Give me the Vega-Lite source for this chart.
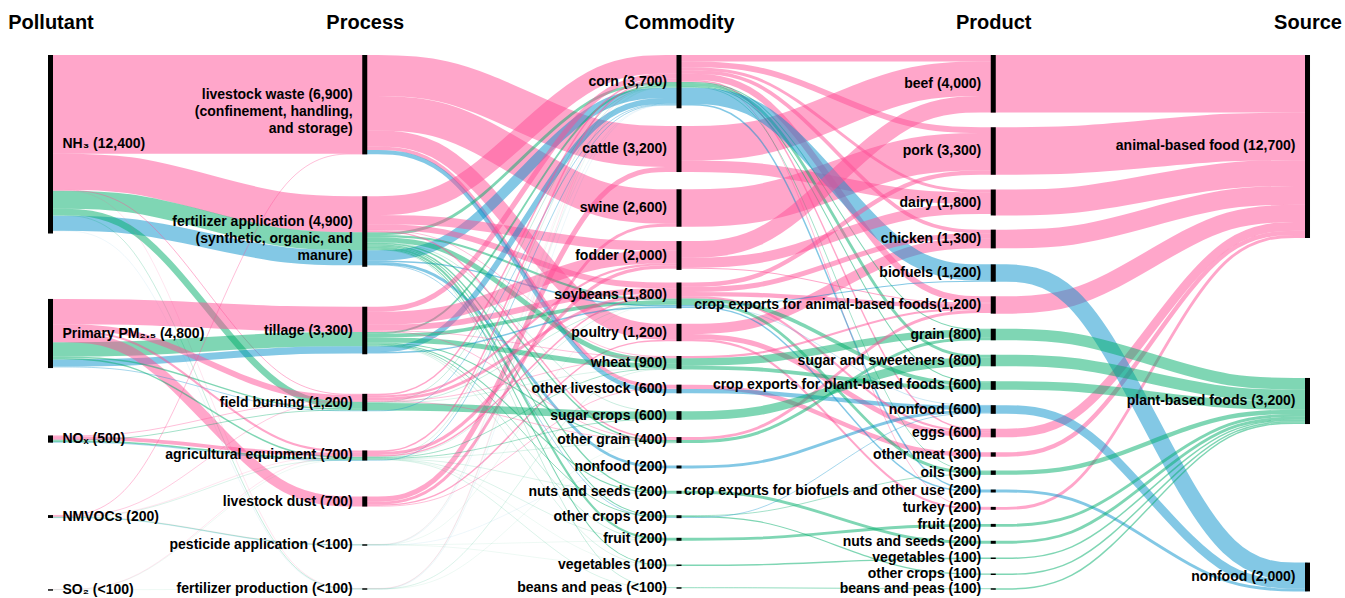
{
  "$schema": "https://vega.github.io/schema/vega-lite/v6.json",
  "width": 1345,
  "height": 558,
  "autosize": {"type": "none"},
  "padding": {"top": 40, "left": 0, "right": 0, "bottom": 0},
  "background": "white",
  "config": {"view": {"stroke": null}, "font": "Liberation Sans"},
  "datasets": {
    "nodes": [
      {"id": "NH3", "stage": 0, "y0": 0, "v": 12400, "label": ["NH₃ (12,400)"]},
      {"id": "PM", "stage": 0, "y0": 16940, "v": 4800, "label": ["Primary PM₂.₅ (4,800)"]},
      {"id": "NOx", "stage": 0, "y0": 26420, "v": 500, "label": ["NOₓ (500)"]},
      {"id": "VOC", "stage": 0, "y0": 31950, "v": 200, "label": ["NMVOCs (200)"]},
      {"id": "SO2", "stage": 0, "y0": 37100, "v": 100, "label": ["SO₂ (<100)"]},
      {"id": "LW", "stage": 1, "y0": 0, "v": 6900, "label": ["livestock waste (6,900)", "(confinement, handling,", "and storage)"]},
      {"id": "FA", "stage": 1, "y0": 9807, "v": 4900, "label": ["fertilizer application (4,900)", "(synthetic, organic, and", "manure)"]},
      {"id": "TI", "stage": 1, "y0": 17482, "v": 3300, "label": ["tillage (3,300)"]},
      {"id": "FB", "stage": 1, "y0": 23532, "v": 1200, "label": ["field burning (1,200)"]},
      {"id": "AE", "stage": 1, "y0": 27462, "v": 700, "label": ["agricultural equipment (700)"]},
      {"id": "LD", "stage": 1, "y0": 30657, "v": 700, "label": ["livestock dust (700)"]},
      {"id": "PA", "stage": 1, "y0": 33978, "v": 100, "label": ["pesticide application (<100)"]},
      {"id": "FP", "stage": 1, "y0": 37033, "v": 100, "label": ["fertilizer production (<100)"]},
      {"id": "corn", "stage": 2, "y0": 0, "v": 3700, "label": ["corn (3,700)"]},
      {"id": "cattle", "stage": 2, "y0": 4928, "v": 3200, "label": ["cattle (3,200)"]},
      {"id": "swine", "stage": 2, "y0": 9325, "v": 2600, "label": ["swine (2,600)"]},
      {"id": "fodder", "stage": 2, "y0": 12924, "v": 2000, "label": ["fodder (2,000)"]},
      {"id": "soy", "stage": 2, "y0": 15801, "v": 1800, "label": ["soybeans (1,800)"]},
      {"id": "poultry", "stage": 2, "y0": 18671, "v": 1200, "label": ["poultry (1,200)"]},
      {"id": "wheat", "stage": 2, "y0": 20904, "v": 900, "label": ["wheat (900)"]},
      {"id": "olv", "stage": 2, "y0": 22894, "v": 600, "label": ["other livestock (600)"]},
      {"id": "sugarc", "stage": 2, "y0": 24735, "v": 600, "label": ["sugar crops (600)"]},
      {"id": "ograin", "stage": 2, "y0": 26536, "v": 400, "label": ["other grain (400)"]},
      {"id": "nfc", "stage": 2, "y0": 28511, "v": 200, "label": ["nonfood (200)"]},
      {"id": "nutsc", "stage": 2, "y0": 30268, "v": 200, "label": ["nuts and seeds (200)"]},
      {"id": "ocropc", "stage": 2, "y0": 31962, "v": 200, "label": ["other crops (200)"]},
      {"id": "fruitc", "stage": 2, "y0": 33532, "v": 200, "label": ["fruit (200)"]},
      {"id": "vegc", "stage": 2, "y0": 35387, "v": 100, "label": ["vegetables (100)"]},
      {"id": "beansc", "stage": 2, "y0": 36964, "v": 100, "label": ["beans and peas (<100)"]},
      {"id": "beef", "stage": 3, "y0": 0, "v": 4000, "label": ["beef (4,000)"]},
      {"id": "pork", "stage": 3, "y0": 5017, "v": 3300, "label": ["pork (3,300)"]},
      {"id": "dairy", "stage": 3, "y0": 9343, "v": 1800, "label": ["dairy (1,800)"]},
      {"id": "chicken", "stage": 3, "y0": 12128, "v": 1300, "label": ["chicken (1,300)"]},
      {"id": "biofuel", "stage": 3, "y0": 14539, "v": 1200, "label": ["biofuels (1,200)"]},
      {"id": "xanimal", "stage": 3, "y0": 16761, "v": 1200, "label": ["crop exports for animal-based foods(1,200)"]},
      {"id": "grain", "stage": 3, "y0": 19010, "v": 800, "label": ["grain (800)"]},
      {"id": "sugar", "stage": 3, "y0": 20815, "v": 800, "label": ["sugar and sweeteners (800)"]},
      {"id": "xplant", "stage": 3, "y0": 22651, "v": 600, "label": ["crop exports for plant-based foods (600)"]},
      {"id": "nfp", "stage": 3, "y0": 24318, "v": 600, "label": ["nonfood (600)"]},
      {"id": "eggs", "stage": 3, "y0": 25950, "v": 600, "label": ["eggs (600)"]},
      {"id": "ometa", "stage": 3, "y0": 27593, "v": 300, "label": ["other meat (300)"]},
      {"id": "oils", "stage": 3, "y0": 28857, "v": 300, "label": ["oils (300)"]},
      {"id": "xbio", "stage": 3, "y0": 30178, "v": 200, "label": ["crop exports for biofuels and other use (200)"]},
      {"id": "turkey", "stage": 3, "y0": 31381, "v": 200, "label": ["turkey (200)"]},
      {"id": "fruitp", "stage": 3, "y0": 32562, "v": 200, "label": ["fruit (200)"]},
      {"id": "nutsp", "stage": 3, "y0": 33740, "v": 200, "label": ["nuts and seeds (200)"]},
      {"id": "vegp", "stage": 3, "y0": 34901, "v": 100, "label": ["vegetables (100)"]},
      {"id": "ocropp", "stage": 3, "y0": 36012, "v": 100, "label": ["other crops (100)"]},
      {"id": "beansp", "stage": 3, "y0": 37033, "v": 100, "label": ["beans and peas (100)"]},
      {"id": "animal", "stage": 4, "y0": 0, "v": 12700, "label": ["animal-based food (12,700)"]},
      {"id": "plant", "stage": 4, "y0": 22428, "v": 3200, "label": ["plant-based foods (3,200)"]},
      {"id": "nonfood", "stage": 4, "y0": 35250, "v": 2000, "label": ["nonfood (2,000)"]}
    ],
    "links": [
      {"s": "NH3", "t": "LW", "c": 0, "v": 6850},
      {"s": "NH3", "t": "FA", "c": 0, "v": 2500},
      {"s": "NH3", "t": "FA", "c": 1, "v": 1250},
      {"s": "NH3", "t": "FA", "c": 2, "v": 1050},
      {"s": "NH3", "t": "FB", "c": 0, "v": 60},
      {"s": "NH3", "t": "FB", "c": 1, "v": 450},
      {"s": "NH3", "t": "FP", "c": 0, "v": 20},
      {"s": "NH3", "t": "FP", "c": 1, "v": 30},
      {"s": "NH3", "t": "FP", "c": 2, "v": 10},
      {"s": "PM", "t": "TI", "c": 0, "v": 1750},
      {"s": "PM", "t": "TI", "c": 1, "v": 1000},
      {"s": "PM", "t": "TI", "c": 2, "v": 500},
      {"s": "PM", "t": "LD", "c": 0, "v": 700},
      {"s": "PM", "t": "FB", "c": 0, "v": 400},
      {"s": "PM", "t": "FB", "c": 1, "v": 100},
      {"s": "PM", "t": "FB", "c": 2, "v": 50},
      {"s": "PM", "t": "AE", "c": 0, "v": 150},
      {"s": "PM", "t": "AE", "c": 1, "v": 100},
      {"s": "NOx", "t": "AE", "c": 0, "v": 250},
      {"s": "NOx", "t": "AE", "c": 1, "v": 100},
      {"s": "NOx", "t": "AE", "c": 2, "v": 50},
      {"s": "NOx", "t": "FB", "c": 0, "v": 50},
      {"s": "NOx", "t": "FB", "c": 1, "v": 50},
      {"s": "VOC", "t": "LW", "c": 0, "v": 50},
      {"s": "VOC", "t": "PA", "c": 0, "v": 10},
      {"s": "VOC", "t": "PA", "c": 1, "v": 40},
      {"s": "VOC", "t": "PA", "c": 2, "v": 20},
      {"s": "VOC", "t": "AE", "c": 0, "v": 20},
      {"s": "VOC", "t": "AE", "c": 1, "v": 20},
      {"s": "VOC", "t": "FB", "c": 0, "v": 40},
      {"s": "SO2", "t": "AE", "c": 0, "v": 20},
      {"s": "SO2", "t": "AE", "c": 1, "v": 10},
      {"s": "SO2", "t": "FP", "c": 1, "v": 10},
      {"s": "LW", "t": "cattle", "c": 0, "v": 2850},
      {"s": "LW", "t": "swine", "c": 0, "v": 2400},
      {"s": "LW", "t": "poultry", "c": 0, "v": 1100},
      {"s": "LW", "t": "olv", "c": 0, "v": 250},
      {"s": "LW", "t": "olv", "c": 2, "v": 300},
      {"s": "LD", "t": "cattle", "c": 0, "v": 350},
      {"s": "LD", "t": "swine", "c": 0, "v": 200},
      {"s": "LD", "t": "poultry", "c": 0, "v": 100},
      {"s": "LD", "t": "olv", "c": 0, "v": 50},
      {"s": "FA", "t": "corn", "c": 0, "v": 1300},
      {"s": "FA", "t": "corn", "c": 1, "v": 200},
      {"s": "FA", "t": "corn", "c": 2, "v": 710},
      {"s": "FA", "t": "fodder", "c": 0, "v": 650},
      {"s": "FA", "t": "soy", "c": 0, "v": 400},
      {"s": "FA", "t": "soy", "c": 1, "v": 150},
      {"s": "FA", "t": "soy", "c": 2, "v": 100},
      {"s": "FA", "t": "wheat", "c": 0, "v": 50},
      {"s": "FA", "t": "wheat", "c": 1, "v": 350},
      {"s": "FA", "t": "ograin", "c": 0, "v": 100},
      {"s": "FA", "t": "ograin", "c": 1, "v": 100},
      {"s": "FA", "t": "nfc", "c": 2, "v": 190},
      {"s": "FA", "t": "nutsc", "c": 1, "v": 100},
      {"s": "FA", "t": "ocropc", "c": 1, "v": 70},
      {"s": "FA", "t": "ocropc", "c": 2, "v": 50},
      {"s": "FA", "t": "fruitc", "c": 1, "v": 150},
      {"s": "FA", "t": "vegc", "c": 1, "v": 70},
      {"s": "FA", "t": "beansc", "c": 1, "v": 30},
      {"s": "FA", "t": "sugarc", "c": 1, "v": 30},
      {"s": "TI", "t": "corn", "c": 0, "v": 350},
      {"s": "TI", "t": "corn", "c": 1, "v": 130},
      {"s": "TI", "t": "corn", "c": 2, "v": 400},
      {"s": "TI", "t": "fodder", "c": 0, "v": 900},
      {"s": "TI", "t": "soy", "c": 0, "v": 400},
      {"s": "TI", "t": "soy", "c": 1, "v": 250},
      {"s": "TI", "t": "soy", "c": 2, "v": 100},
      {"s": "TI", "t": "wheat", "c": 0, "v": 50},
      {"s": "TI", "t": "wheat", "c": 1, "v": 350},
      {"s": "TI", "t": "ograin", "c": 0, "v": 50},
      {"s": "TI", "t": "ograin", "c": 1, "v": 80},
      {"s": "TI", "t": "nutsc", "c": 1, "v": 80},
      {"s": "TI", "t": "ocropc", "c": 1, "v": 60},
      {"s": "TI", "t": "fruitc", "c": 1, "v": 30},
      {"s": "TI", "t": "vegc", "c": 1, "v": 20},
      {"s": "FB", "t": "sugarc", "c": 1, "v": 520},
      {"s": "FB", "t": "corn", "c": 0, "v": 100},
      {"s": "FB", "t": "corn", "c": 1, "v": 30},
      {"s": "FB", "t": "corn", "c": 2, "v": 50},
      {"s": "FB", "t": "soy", "c": 0, "v": 200},
      {"s": "FB", "t": "soy", "c": 1, "v": 30},
      {"s": "FB", "t": "fodder", "c": 0, "v": 150},
      {"s": "FB", "t": "wheat", "c": 0, "v": 50},
      {"s": "FB", "t": "wheat", "c": 1, "v": 20},
      {"s": "FB", "t": "ograin", "c": 0, "v": 50},
      {"s": "AE", "t": "corn", "c": 0, "v": 100},
      {"s": "AE", "t": "corn", "c": 1, "v": 20},
      {"s": "AE", "t": "corn", "c": 2, "v": 50},
      {"s": "AE", "t": "fodder", "c": 0, "v": 220},
      {"s": "AE", "t": "soy", "c": 0, "v": 100},
      {"s": "AE", "t": "soy", "c": 1, "v": 20},
      {"s": "AE", "t": "wheat", "c": 1, "v": 50},
      {"s": "AE", "t": "sugarc", "c": 1, "v": 50},
      {"s": "AE", "t": "ograin", "c": 1, "v": 20},
      {"s": "AE", "t": "nutsc", "c": 1, "v": 20},
      {"s": "AE", "t": "fruitc", "c": 1, "v": 20},
      {"s": "AE", "t": "vegc", "c": 1, "v": 10},
      {"s": "AE", "t": "beansc", "c": 1, "v": 20},
      {"s": "PA", "t": "corn", "c": 0, "v": 10},
      {"s": "PA", "t": "corn", "c": 1, "v": 10},
      {"s": "PA", "t": "corn", "c": 2, "v": 10},
      {"s": "PA", "t": "fruitc", "c": 1, "v": 10},
      {"s": "PA", "t": "vegc", "c": 1, "v": 10},
      {"s": "PA", "t": "soy", "c": 1, "v": 10},
      {"s": "PA", "t": "nfc", "c": 2, "v": 10},
      {"s": "FP", "t": "corn", "c": 0, "v": 20},
      {"s": "FP", "t": "corn", "c": 1, "v": 10},
      {"s": "FP", "t": "corn", "c": 2, "v": 10},
      {"s": "FP", "t": "wheat", "c": 1, "v": 20},
      {"s": "FP", "t": "ograin", "c": 1, "v": 10},
      {"s": "cattle", "t": "beef", "c": 0, "v": 2400},
      {"s": "cattle", "t": "dairy", "c": 0, "v": 800},
      {"s": "swine", "t": "pork", "c": 0, "v": 2600},
      {"s": "poultry", "t": "chicken", "c": 0, "v": 700},
      {"s": "poultry", "t": "eggs", "c": 0, "v": 350},
      {"s": "poultry", "t": "turkey", "c": 0, "v": 150},
      {"s": "olv", "t": "ometa", "c": 0, "v": 300},
      {"s": "olv", "t": "nfp", "c": 2, "v": 300},
      {"s": "corn", "t": "beef", "c": 0, "v": 450},
      {"s": "corn", "t": "pork", "c": 0, "v": 400},
      {"s": "corn", "t": "dairy", "c": 0, "v": 200},
      {"s": "corn", "t": "chicken", "c": 0, "v": 250},
      {"s": "corn", "t": "xanimal", "c": 0, "v": 430},
      {"s": "corn", "t": "eggs", "c": 0, "v": 100},
      {"s": "corn", "t": "turkey", "c": 0, "v": 50},
      {"s": "corn", "t": "grain", "c": 1, "v": 70},
      {"s": "corn", "t": "sugar", "c": 1, "v": 200},
      {"s": "corn", "t": "xplant", "c": 1, "v": 70},
      {"s": "corn", "t": "oils", "c": 1, "v": 50},
      {"s": "corn", "t": "biofuel", "c": 2, "v": 1130},
      {"s": "corn", "t": "xbio", "c": 2, "v": 100},
      {"s": "fodder", "t": "beef", "c": 0, "v": 1150},
      {"s": "fodder", "t": "dairy", "c": 0, "v": 700},
      {"s": "fodder", "t": "xanimal", "c": 0, "v": 70},
      {"s": "soy", "t": "pork", "c": 0, "v": 300},
      {"s": "soy", "t": "chicken", "c": 0, "v": 350},
      {"s": "soy", "t": "xanimal", "c": 0, "v": 300},
      {"s": "soy", "t": "eggs", "c": 0, "v": 150},
      {"s": "soy", "t": "oils", "c": 1, "v": 200},
      {"s": "soy", "t": "xplant", "c": 1, "v": 260},
      {"s": "soy", "t": "biofuel", "c": 2, "v": 70},
      {"s": "soy", "t": "xbio", "c": 2, "v": 100},
      {"s": "soy", "t": "nfp", "c": 2, "v": 30},
      {"s": "wheat", "t": "xanimal", "c": 0, "v": 150},
      {"s": "wheat", "t": "grain", "c": 1, "v": 520},
      {"s": "wheat", "t": "xplant", "c": 1, "v": 270},
      {"s": "ograin", "t": "xanimal", "c": 0, "v": 200},
      {"s": "ograin", "t": "grain", "c": 1, "v": 210},
      {"s": "sugarc", "t": "sugar", "c": 1, "v": 600},
      {"s": "nfc", "t": "nfp", "c": 2, "v": 200},
      {"s": "nutsc", "t": "nutsp", "c": 1, "v": 200},
      {"s": "ocropc", "t": "ocropp", "c": 1, "v": 80},
      {"s": "ocropc", "t": "oils", "c": 1, "v": 50},
      {"s": "ocropc", "t": "nfp", "c": 2, "v": 50},
      {"s": "fruitc", "t": "fruitp", "c": 1, "v": 200},
      {"s": "vegc", "t": "vegp", "c": 1, "v": 100},
      {"s": "beansc", "t": "beansp", "c": 1, "v": 60},
      {"s": "beef", "t": "animal", "c": 0, "v": 4000},
      {"s": "pork", "t": "animal", "c": 0, "v": 3300},
      {"s": "dairy", "t": "animal", "c": 0, "v": 1800},
      {"s": "chicken", "t": "animal", "c": 0, "v": 1300},
      {"s": "xanimal", "t": "animal", "c": 0, "v": 1200},
      {"s": "eggs", "t": "animal", "c": 0, "v": 600},
      {"s": "ometa", "t": "animal", "c": 0, "v": 300},
      {"s": "turkey", "t": "animal", "c": 0, "v": 200},
      {"s": "biofuel", "t": "nonfood", "c": 2, "v": 1200},
      {"s": "nfp", "t": "nonfood", "c": 2, "v": 600},
      {"s": "xbio", "t": "nonfood", "c": 2, "v": 200},
      {"s": "grain", "t": "plant", "c": 1, "v": 800},
      {"s": "sugar", "t": "plant", "c": 1, "v": 800},
      {"s": "xplant", "t": "plant", "c": 1, "v": 600},
      {"s": "oils", "t": "plant", "c": 1, "v": 300},
      {"s": "fruitp", "t": "plant", "c": 1, "v": 200},
      {"s": "nutsp", "t": "plant", "c": 1, "v": 200},
      {"s": "vegp", "t": "plant", "c": 1, "v": 100},
      {"s": "ocropp", "t": "plant", "c": 1, "v": 100},
      {"s": "beansp", "t": "plant", "c": 1, "v": 100}
    ]
  },
  "layer": [
    {
      "data": {"name": "links"},
      "transform": [
        {"lookup": "s", "from": {"data": {"name": "nodes"}, "key": "id", "fields": ["stage", "y0"]}, "as": ["sx", "sy0"]},
        {"lookup": "t", "from": {"data": {"name": "nodes"}, "key": "id", "fields": ["y0"]}, "as": ["ty0"]},
        {"stack": "v", "groupby": ["s"], "sort": [{"field": "c"}, {"field": "ty0"}], "as": ["a0", "a1"]},
        {"stack": "v", "groupby": ["t"], "sort": [{"field": "c"}, {"field": "sy0"}], "as": ["b0", "b1"]},
        {"calculate": "datum.sy0 + (datum.a0 + datum.a1) / 2", "as": "ys"},
        {"calculate": "datum.ty0 + (datum.b0 + datum.b1) / 2", "as": "yt"},
        {"calculate": "datum.s + '>' + datum.t + '>' + datum.c", "as": "lid"},
        {"calculate": "[0, 1, 2, 3, 4]", "as": "pts"},
        {"flatten": ["pts"], "as": ["pt"]},
        {"calculate": "datum.sx + datum.pt / 4", "as": "px"},
        {"calculate": "datum.pt < 2 ? datum.ys : (datum.pt == 2 ? (datum.ys + datum.yt) / 2 : datum.yt)", "as": "py"}
      ],
      "mark": {"type": "line", "interpolate": "basis", "strokeOpacity": 0.5, "strokeCap": "butt", "clip": false},
      "encoding": {
        "x": {"field": "px", "type": "quantitative", "scale": {"domain": [-0.1607, 4.1193], "nice": false, "zero": false},
          "axis": {"orient": "top", "values": [0, 1, 2, 3, 4], "labelExpr": "['Pollutant','Process','Commodity','Product','Source'][datum.value]", "domain": false, "ticks": false, "tickSize": 0, "grid": false, "labelFontSize": 20, "labelFontWeight": "bold", "labelFont": "Liberation Sans", "labelColor": "black", "labelPadding": 8, "labelFlush": false, "labelOverlap": false, "labelBound": false, "title": null}},
        "y": {"field": "py", "type": "quantitative", "scale": {"domain": [-1042, 37708], "reverse": true, "nice": false, "zero": false}, "axis": null},
        "detail": {"field": "lid", "type": "nominal"},
        "order": {"field": "pt", "type": "quantitative"},
        "color": {"field": "c", "type": "nominal", "scale": {"domain": [0, 1, 2], "range": ["#ff4d95", "#00ad69", "#0791cb"]}, "legend": null},
        "strokeWidth": {"field": "v", "type": "quantitative", "scale": {"domain": [0, 10000], "range": [0, 144], "zero": true}, "legend": null}
      }
    },
    {
      "data": {"name": "nodes"},
      "transform": [{"calculate": "datum.y0 + datum.v", "as": "y1"}],
      "mark": {"type": "rule", "strokeWidth": 5, "color": "black", "strokeCap": "butt"},
      "encoding": {
        "x": {"field": "stage", "type": "quantitative",
          "axis": {"orient": "top", "values": [0, 1, 2, 3, 4], "labelExpr": "['Pollutant','Process','Commodity','Product','Source'][datum.value]", "domain": false, "ticks": false, "tickSize": 0, "grid": false, "labelFontSize": 20, "labelFontWeight": "bold", "labelFont": "Liberation Sans", "labelColor": "black", "labelPadding": 8, "labelFlush": false, "labelOverlap": false, "labelBound": false, "title": null}},
        "y": {"field": "y0", "type": "quantitative", "axis": null},
        "y2": {"field": "y1"}
      }
    },
    {
      "data": {"name": "nodes"},
      "transform": [{"filter": "datum.stage == 0"}, {"calculate": "datum.y0 + datum.v / 2", "as": "ym"}],
      "mark": {"type": "text", "align": "left", "baseline": "middle", "dx": 12, "fontSize": 14, "fontWeight": "bold", "font": "Liberation Sans", "color": "black", "lineHeight": 17},
      "encoding": {
        "x": {"field": "stage", "type": "quantitative",
          "axis": {"orient": "top", "values": [0, 1, 2, 3, 4], "labelExpr": "['Pollutant','Process','Commodity','Product','Source'][datum.value]", "domain": false, "ticks": false, "tickSize": 0, "grid": false, "labelFontSize": 20, "labelFontWeight": "bold", "labelFont": "Liberation Sans", "labelColor": "black", "labelPadding": 8, "labelFlush": false, "labelOverlap": false, "labelBound": false, "title": null}},
        "y": {"field": "ym", "type": "quantitative", "axis": null},
        "text": {"field": "label", "type": "nominal"}
      }
    },
    {
      "data": {"name": "nodes"},
      "transform": [{"filter": "datum.stage > 0 && length(datum.label) == 1"}, {"calculate": "datum.y0 + datum.v / 2", "as": "ym"}],
      "mark": {"type": "text", "align": "right", "baseline": "middle", "dx": -12, "fontSize": 14, "fontWeight": "bold", "font": "Liberation Sans", "color": "black", "lineHeight": 17},
      "encoding": {
        "x": {"field": "stage", "type": "quantitative",
          "axis": {"orient": "top", "values": [0, 1, 2, 3, 4], "labelExpr": "['Pollutant','Process','Commodity','Product','Source'][datum.value]", "domain": false, "ticks": false, "tickSize": 0, "grid": false, "labelFontSize": 20, "labelFontWeight": "bold", "labelFont": "Liberation Sans", "labelColor": "black", "labelPadding": 8, "labelFlush": false, "labelOverlap": false, "labelBound": false, "title": null}},
        "y": {"field": "ym", "type": "quantitative", "axis": null},
        "text": {"field": "label", "type": "nominal"}
      }
    },
    {
      "data": {"name": "nodes"},
      "transform": [{"filter": "datum.stage > 0 && length(datum.label) > 1"}, {"calculate": "datum.y0 + datum.v / 2", "as": "ym"}],
      "mark": {"type": "text", "align": "right", "baseline": "middle", "dx": -12, "dy": -10, "fontSize": 14, "fontWeight": "bold", "font": "Liberation Sans", "color": "black", "lineHeight": 17},
      "encoding": {
        "x": {"field": "stage", "type": "quantitative",
          "axis": {"orient": "top", "values": [0, 1, 2, 3, 4], "labelExpr": "['Pollutant','Process','Commodity','Product','Source'][datum.value]", "domain": false, "ticks": false, "tickSize": 0, "grid": false, "labelFontSize": 20, "labelFontWeight": "bold", "labelFont": "Liberation Sans", "labelColor": "black", "labelPadding": 8, "labelFlush": false, "labelOverlap": false, "labelBound": false, "title": null}},
        "y": {"field": "ym", "type": "quantitative", "axis": null},
        "text": {"field": "label", "type": "nominal"}
      }
    }
  ]
}
